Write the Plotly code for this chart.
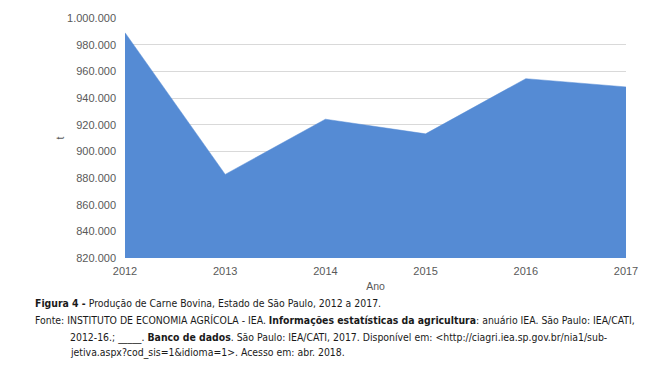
import plotly.graph_objects as go

anos = [2012, 2013, 2014, 2015, 2016, 2017]
producao = [989000, 882700, 924100, 913100, 954500, 948300]
y_ticks = [820000, 840000, 860000, 880000, 900000, 920000, 940000, 960000, 980000, 1000000]

fig = go.Figure()
fig.add_trace(go.Scatter(
    x=anos, y=producao, mode="lines", fill="tozeroy",
    fillcolor="#558BD4", line=dict(color="#558BD4", width=0.5),
    hoverinfo="skip", showlegend=False,
))

tick_font = dict(family="Liberation Sans", size=11, color="#595959")
fig.update_layout(
    width=664, height=378,
    margin=dict(l=125, r=38, t=16, b=120),
    paper_bgcolor="white", plot_bgcolor="white",
    separators=",.",
    xaxis=dict(
        range=[2012, 2017], tickvals=anos, ticktext=[str(a) for a in anos],
        showgrid=False, zeroline=False, showline=False, ticks="",
        tickfont=tick_font, ticklabelstandoff=5,
        title=dict(text="Ano", font=dict(family="Liberation Sans", size=10.5, color="#595959"), standoff=6),
    ),
    yaxis=dict(
        range=[820000, 1000000], tickvals=y_ticks, tickformat=",d",
        showgrid=True, gridcolor="#D9D9D9", gridwidth=1, zeroline=False, showline=False,
        ticks="", tickfont=tick_font, ticklabelstandoff=8,
        title=dict(text="t", font=dict(family="Liberation Sans", size=10.5, color="#595959"), standoff=0),
    ),
)

cap_font = dict(family="DejaVu Sans Condensed, Liberation Sans Narrow, DejaVu Sans", size=10.4, color="#1a1a1a")
lines = [
    (33, 303, "<b>Figura 4 -</b> Produção de Carne Bovina, Estado de São Paulo, 2012 a 2017."),
    (33, 321, "Fonte: INSTITUTO DE ECONOMIA AGRÍCOLA - IEA. <b>Informações estatísticas da agricultura</b>: anuário IEA. São Paulo: IEA/CATI,"),
    (68, 338, "2012-16.; _____. <b>Banco de dados</b>. São Paulo: IEA/CATI, 2017. Disponível em: &lt;http://ciagri.iea.sp.gov.br/nia1/sub-"),
    (68, 353, "jetiva.aspx?cod_sis=1&amp;idioma=1&gt;. Acesso em: abr. 2018."),
]
pw, ph = 664 - 125 - 38, 378 - 16 - 120
for px, py, txt in lines:
    fig.add_annotation(
        x=(px - 125) / pw, y=(258 - py) / ph, xref="paper", yref="paper",
        xanchor="left", yanchor="middle", showarrow=False, align="left",
        text=txt, font=cap_font,
    )

fig.write_html("out.html")
